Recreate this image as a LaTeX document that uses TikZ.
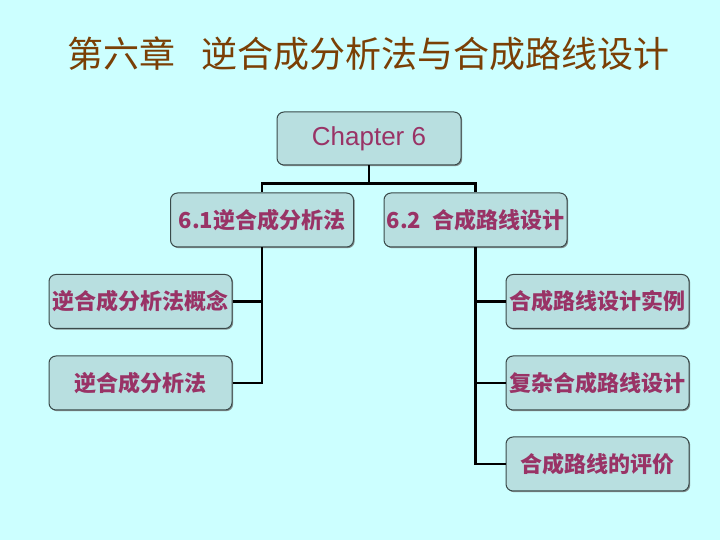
\documentclass[tikz,border=0pt]{standalone}
\usepackage{fontspec}
\setmainfont{Liberation Sans}
\newfontfamily\cjk{Noto Sans CJK SC}
\usetikzlibrary{shadows,calc}
\definecolor{bgc}{HTML}{CCFFFF}
\definecolor{boxfill}{HTML}{B8DFE0}
\definecolor{boxline}{HTML}{3A4A4A}
\definecolor{txtc}{HTML}{993366}
\definecolor{titlec}{HTML}{7A3F05}
\tikzset{
  box/.style={draw=boxline, line width=1pt, fill=boxfill, rounded corners=7pt,
    minimum width=183pt, minimum height=54pt, inner sep=0pt, text=txtc,
    font=\cjk\bfseries\fontsize{22}{24}\selectfont,
    drop shadow={shadow xshift=1.2pt, shadow yshift=-1.2pt, fill=black!55, opacity=0.8}},
  conn/.style={draw=black, line width=2.2pt}
}
\begin{document}
\begin{tikzpicture}[x=1pt,y=1pt]
\fill[bgc] (0,0) rectangle (720,540);
\useasboundingbox (0,0) rectangle (720,540);
\node[text=titlec, font=\cjk\fontsize{36}{40}\selectfont] (title) at (368.5,486) {第六章\hspace{0.7em}逆合成分析法与合成路线设计};
\node[box, minimum width=184pt, minimum height=53pt, font=\fontsize{26}{30}\selectfont] (ch) at (369,401.5) {Chapter 6};
\node[box] (a) at (262,320) {6.1逆合成分析法};
\node[box] (b) at (475.5,320) {6.2\hspace{0.5em}合成路线设计};
\node[box] (a1) at (140.5,238.5) {逆合成分析法概念};
\node[box] (a2) at (140.5,157) {逆合成分析法};
\node[box] (b1) at (597.5,238.5) {合成路线设计实例};
\node[box] (b2) at (597.5,157) {复杂合成路线设计};
\node[box] (b3) at (597.5,76) {合成路线的评价};
\coordinate (bus) at ($(ch.south)+(0,-18)$);
\draw[conn] (ch.south) -- (bus);
\draw[conn] (bus) -| (a.north);
\draw[conn] (bus) -| (b.north);
\draw[conn] (a.south) |- (a1.east);
\draw[conn] (a.south) |- (a2.east);
\draw[conn] (b.south) |- (b1.west);
\draw[conn] (b.south) |- (b2.west);
\draw[conn] (b.south) |- (b3.west);
\end{tikzpicture}
\end{document}
